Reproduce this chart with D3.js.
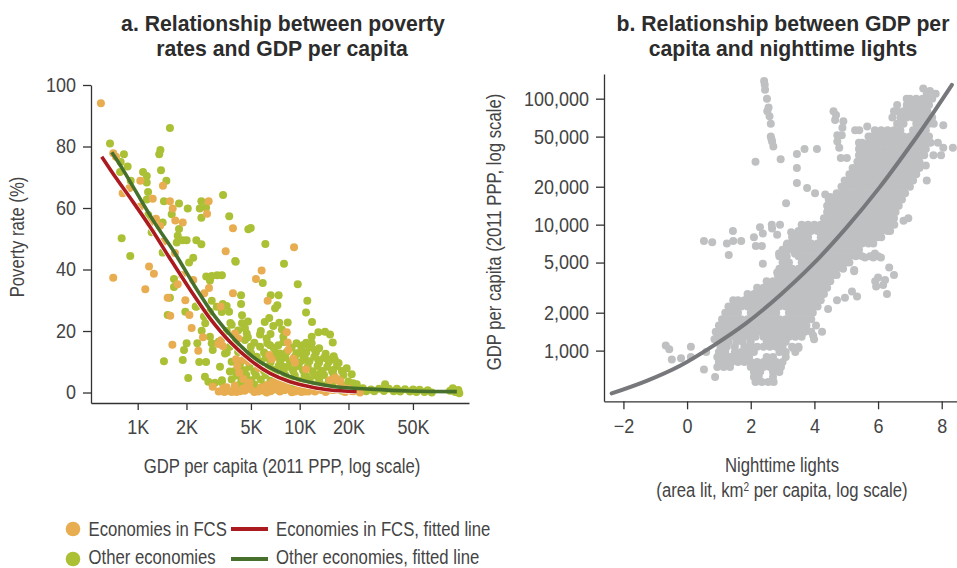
<!DOCTYPE html>
<html><head><meta charset="utf-8">
<script src="https://cdn.jsdelivr.net/npm/d3@7/dist/d3.min.js"></script>
<style>html,body{margin:0;padding:0;background:#fff}svg{display:block}
text{font-family:"Liberation Sans",sans-serif;fill:#444}
.title{font-weight:700;fill:#2c2c2c}</style>
</head><body><svg id="c" width="957" height="568"></svg>
<script>
// Panel a: [log10 GDP per capita, poverty rate %]
const fcsPoints=[[2.773,94.1],[2.849,77.8],[2.866,76.7],[2.907,64.8],[2.948,66.4],[3.016,68.9],[3.156,67.2],[3.093,63],[3.199,62.2],[3.216,59.8],[3.232,55.9],[3.278,55.3],[3.438,62.2],[3.428,58.1],[3.588,53.4],[3.543,45.9],[3.113,56.5],[3.072,55.1],[3.014,60.4],[3.138,54.2],[3.158,49],[3.23,45.4],[2.849,37.3],[3.07,41],[3.1,38.6],[3.047,33.6],[3.185,30.8],[3.294,30],[3.201,25],[3.319,25.2],[3.247,35.2],[3.343,36.6],[3.411,32.3],[3.272,38.2],[3.965,47.2],[3.765,39.7],[3.73,36.9],[3.588,32.3],[3.802,29.8],[3.44,34],[3.333,21],[3.214,15.5],[3.374,13.6],[3.403,18],[3.512,28],[3.498,15.8],[3.525,15.1],[3.514,17],[3.6,19.2],[3.621,17.6],[3.92,19.6],[3.926,16.3],[3.93,13.8],[3.96,11.1],[3.971,9.8],[4.039,7.6],[3.812,12.2],[3.827,10.8],[3.607,10.8],[3.652,10.6],[3.683,10],[3.615,8.6],[3.627,6.4],[3.652,4.4],[3.689,3.2],[3.745,8],[3.463,1.9],[3.528,1.4],[3.549,1.7],[3.535,.2],[3.58,.2],[3.631,.4],[3.673,1.9],[3.745,.5],[3.775,1],[3.796,2.4],[3.827,3],[3.858,3],[3.796,0],[3.848,1.4],[3.878,.3],[3.92,1.9],[3.951,.1],[3.981,.8],[4.033,.3],[4.105,.8],[4.187,4],[4.238,3.8],[4.259,1.9],[4.321,.5],[4.372,0],[4.207,.8],[3.745,.3],[3.837,3.5],[3.878,3],[3.868,.8],[3.909,.8],[3.971,.3],[4.012,.8],[4.053,.3],[4.094,.3],[4.136,.8],[4.177,.8],[4.207,4.4],[4.249,3.8],[4.28,.2],[4.33,.4],[3.6,2.2],[3.56,.6],[3.5,.3],[3.61,.2],[3.66,.6],[3.7,1],[3.72,.2],[3.82,.4],[3.9,1],[3.94,.9],[4.01,.2],[4.07,.9],[4.16,.2],[4.23,1],[4.3,1.2],[4.22,4.8],[3.65,1.2],[3.76,1.6],[3.83,2]];
const otherPoints=[[2.829,81],[2.915,77.5],[2.895,75],[2.938,73.5],[2.891,71.7],[2.957,68.9],[3.033,71.7],[3.056,70.4],[3.056,68.3],[3.064,65.2],[3.056,62.8],[3.199,86],[3.14,78.9],[3.133,77.5],[3.144,72.3],[3.177,68.9],[3.162,62.2],[3.255,61.5],[3.309,59.8],[3.393,62.2],[3.383,59.8],[3.422,60.2],[3.393,56.8],[3.527,64.2],[3.565,57.3],[3.21,58],[3.154,55.3],[3.255,53.2],[3.247,51],[3.241,48.8],[3.278,49.5],[3.302,49.5],[3.362,49.5],[3.393,48.2],[2.901,50.2],[2.954,44.4],[3.154,45.5],[3.343,43.8],[3.605,42.5],[3.086,52.1],[3.065,57.7],[3.698,53.5],[3.683,53.1],[3.788,48.3],[3.602,42.8],[3.903,41.9],[3.772,35.6],[3.988,35.2],[3.821,31.6],[3.87,31.6],[3.638,31.6],[3.638,28.8],[3.862,28.4],[3.848,27.4],[4.047,29.8],[4.039,26],[4.076,22.9],[3.423,37.7],[3.457,37.9],[3.491,38.1],[3.52,38.1],[3.446,36.4],[3.224,36.9],[3.224,34.3],[3.199,30.8],[3.185,25.2],[3.294,26.3],[3.358,28],[3.457,29.8],[3.488,27.9],[3.525,28.8],[3.549,28.1],[3.564,26.3],[3.519,26.2],[3.446,26.3],[3.409,24.7],[3.417,22.5],[3.572,22.6],[3.644,25.1],[3.644,22.5],[3.681,23.1],[3.662,20.9],[3.673,19.2],[3.662,17.1],[3.698,14.9],[3.755,18.9],[3.784,22.9],[3.812,24.2],[3.837,21.6],[3.874,22.7],[3.926,22.8],[3.899,18.1],[3.796,17.6],[3.817,15.4],[3.868,15.4],[3.878,12.7],[4.018,15.4],[4.002,12.7],[4.022,10.6],[4.074,18.1],[4.115,19.6],[4.156,19.8],[4.187,18.9],[4.204,16.3],[4.074,16],[4.094,13.8],[4.166,11.1],[4.218,10.6],[4.115,10.6],[4.29,7.9],[4.321,5.9],[4.207,7.3],[4.125,6.2],[4.043,5.1],[3.96,7.3],[3.899,8.4],[3.755,14.9],[3.735,11.6],[3.569,14.9],[3.539,12.7],[3.508,8.4],[3.569,6.8],[3.621,2.4],[3.302,16],[3.286,13.8],[3.278,10.6],[3.162,10.2],[3.368,16],[3.38,9.9],[3.422,9.9],[3.312,4.7],[3.415,5.1],[3.436,3.5],[3.477,3.2],[3.519,3.3],[3.463,13.8],[3.457,16],[3.446,18.1],[3.395,20.1],[3.317,42.3],[3.362,27.9],
[3.6,7],[3.66,7.2],[3.72,6.8],[3.78,7],[3.84,7.3],[3.9,6.8],[3.96,7],[4.02,7.2],[4.08,6.9],[4.14,7],[4.2,6.8],[4.26,7],
[3.58,10],[3.64,10.2],[3.7,9.8],[3.76,10],[3.82,9.8],[3.88,10.2],[3.94,10],[4,9.8],[4.06,10.2],[4.12,9.8],[4.18,10],[4.24,9.6],
[3.55,13],[3.62,13.2],[3.7,12.8],[3.78,13],[3.85,13],[3.92,13.2],[3.98,12.8],[4.04,13],[4.1,13],[4.16,12.6],
[3.52,4],[3.58,4.2],[3.64,3.8],[3.7,4],[3.76,4.2],[3.82,3.8],[3.88,4],[3.94,4.2],[4,3.8],[4.06,4],[4.12,4.2],[4.18,3.8],[4.24,4],[4.3,3.6],
[3.6,1],[3.66,.8],[3.72,1],[3.78,.6],[3.84,1],[3.9,.8],[3.96,1],[4.02,.6],[4.08,1],[4.14,.8],[4.2,1],[4.26,.6],[4.3,1.2],
[3.5,16.5],[3.6,16],[3.72,16.2],[3.8,16],[3.9,16.4],[3.98,16],[4.04,16.2],[3.55,20],[3.62,20.2],[3.68,12],[3.76,20],
[3.63,8.6],[3.69,8.4],[3.75,8.6],[3.81,8.4],[3.87,8.6],[3.93,8.4],[3.99,8.6],[4.05,8.4],[4.11,8.6],[4.17,8.4],[4.23,8.6],
[3.61,5.5],[3.67,5.7],[3.73,5.5],[3.79,5.7],[3.85,5.5],[3.91,5.7],[3.97,5.5],[4.03,5.7],[4.09,5.5],[4.15,5.7],[4.21,5.5],[4.27,5.7],[4.33,3],
[3.66,2.4],[3.72,2.6],[3.78,2.4],[3.84,2.6],[3.9,2.4],[3.96,2.6],[4.02,2.4],[4.08,2.6],[4.14,2.4],[4.2,2.6],[4.26,2.4],[4.31,2.2],
[3.73,11.5],[3.79,11.3],[3.86,11.6],[3.91,11.4],[3.97,11.6],[4.03,11.4],[4.09,11.6],[4.15,11.3],[4.21,11.8],[3.84,14.5],[3.95,14.6],[4.01,14.2],[4.06,14.6],[4.12,14.4],[3.58,22],[3.68,18],[3.82,19],[3.89,20.5],
[4.352,2.7],[4.33,1.2],[4.36,.6],[4.39,1.4],[4.41,.4],[4.44,1],[4.46,.4],[4.49,1.2],[4.527,2.7],[4.52,.5],[4.55,1.2],[4.58,.4],[4.6,1.2],[4.62,.3],[4.65,1.1],[4.68,.3],[4.7,1],[4.72,.2],[4.74,.9],[4.77,.2],[4.79,.7],[4.815,0],[4.928,.6],[4.945,1.4],[4.96,.2],[4.979,.8],[4.985,-.2]];
const fcsFit=[[2.778,76.7],[2.87,69.5],[2.963,62.6],[3.076,53.9],[3.199,43.6],[3.323,33.5],[3.446,24.1],[3.569,16.5],[3.693,10.6],[3.817,6.2],[3.94,3.5],[4.064,1.9],[4.187,.8],[4.352,.3]];
const otherFit=[[2.84,78.1],[2.91,72.4],[2.983,65.9],[3.107,55],[3.23,45.3],[3.354,34.4],[3.477,24.7],[3.6,17.1],[3.724,11.1],[3.848,7.3],[3.971,4.6],[4.094,3],[4.218,1.9],[4.434,1.1],[4.681,.5],[4.97,.3]];
const gdpKTicks=[1000,2000,5000,10000,20000,50000];
const gdpKLabels=["1K","2K","5K","10K","20K","50K"];
const povertyTicks=[0,20,40,60,80,100];
// Panel b: rows of log10 GDP per capita, with the lights values read along each row of the dense band
const bandLogGdp=[2.75,2.79,2.83,2.87,2.91,2.95,2.99,3.03,3.07,3.11,3.15,3.2,3.25,3.3,3.35,3.4,3.45,3.5,3.55,3.6,3.65,3.7,3.75,3.8,3.85,3.9,3.95,4,4.05,4.1,4.15,4.2,4.25,4.3,4.35,4.4,4.45,4.5,4.55,4.6,4.65,4.7,4.75,4.8,4.85,4.9,4.95,5];
const bandLights=[
[2.15,2.35,2.55,2.72],
[2.1,2.25,2.7,.88],
[2.1,2.3,2.7,2.9],
[.95,1.15,1.35,2,2.2,2.4,2.6,2.8,2.95],
[1,1.2,1.4,1.6,1.8,2,2.2,2.4,2.6,2.8,3],
[.95,1.15,1.35,1.55,1.75,1.95,2.5,2.7,3.1],
[1,1.2,1.5,1.7,1.9,2.1,2.9,3.1,3.4],
[1.05,1.25,1.5,1.8,2,2.2,2.4,2.6,2.8,3,3.3,3.5],
[1.1,1.3,1.55,1.75,2,2.5,2.7,2.9,3.1],
[.95,1.15,1.35,1.55,1.75,1.95,2.15,2.4,2.6,2.8,3,3.2,3.4,3.6],
[.9,1.1,1.3,1.5,1.7,1.9,2.1,2.3,2.5,2.7,2.9,3.1,3.3,3.5,3.7,3.9],
[1,1.2,1.4,1.6,1.8,2,2.2,2.4,2.6,2.8,3,3.2,3.4,3.6,3.75],
[1.1,1.3,1.5,1.7,1.9,2.1,2.3,2.5,2.7,2.9,3.1,3.3,3.5,3.7,3.9],
[1.2,1.4,1.6,2,2.2,2.4,2.6,2.8,3.2,3.4,3.6,3.8,3.95],
[1.3,1.5,1.7,1.9,2.1,2.3,2.5,2.7,2.9,3.1,3.3,3.5,3.7,3.9,4.1],
[1.45,1.6,1.8,2,2.2,2.4,2.6,2.8,3,3.2,3.4,3.6,3.8,4,4.2],
[1.9,2.1,2.3,2.5,2.7,2.9,3.1,3.3,3.5,3.7,3.9,4.1,4.3],
[2.2,2.4,2.6,2.8,3,3.2,3.4,3.6,3.8,4,4.2,4.4],
[2.5,2.7,2.9,3.1,3.3,3.5,3.7,3.9,4.1,4.3,4.5],
[2.85,3,3.2,3.4,3.6,3.8,4,4.2,4.4,4.6,4.7],
[2.9,3.1,3.3,3.5,3.7,3.9,4.1,4.3,4.5,4.7,4.9],
[3,3.2,3.6,3.8,4,4.2,4.4,4.6,4.8,5,5.1],
[2.9,3.1,3.5,3.7,3.9,4.1,4.3,4.5,4.7,4.9,5.1,5.3,5.5,5.75,6],
[3,3.2,3.4,3.6,3.8,4,4.2,4.4,4.6,4.8,5,5.2,5.4],
[3.15,3.3,3.5,3.7,3.9,4.1,4.3,4.5,4.7,4.9,5.1,5.3,5.5,5.7,5.85],
[3.3,3.4,3.6,3.8,4.2,4.4,4.6,4.8,5,5.2,5.4,5.6,5.8,6,6.1],
[3.5,3.7,3.9,4.1,4.3,4.5,4.7,4.9,5.1,5.3,5.5,5.7,5.9,6.1,6.3],
[3.6,3.8,4,4.2,4.4,4.6,4.8,5,5.2,5.4,5.6,5.8,6,6.2,6.4],
[4.3,4.5,4.7,4.9,5.1,5.3,5.5,5.7,5.9,6.1,6.3,6.5],
[4.4,4.6,4.8,5,5.2,5.4,5.6,5.8,6,6.2,6.4,6.55],
[4.4,4.5,4.7,4.9,5.1,5.3,5.5,5.7,5.9,6.1,6.3,6.5,6.65],
[4.45,4.6,4.8,5,5.2,5.4,5.6,5.8,6,6.2,6.4,6.6,6.75],
[4.7,4.9,5.1,5.3,5.5,5.7,5.9,6.1,6.3,6.5,6.7,6.85],
[4.85,5,5.2,5.4,5.6,5.8,6,6.2,6.4,6.6,6.8,7],
[4.95,5.1,5.3,5.5,5.7,5.9,6.1,6.3,6.5,6.7,6.9,7.1],
[5.1,5.2,5.4,5.6,5.8,6,6.2,6.4,6.6,6.8,7,7.2],
[5.2,5.3,5.5,5.7,5.9,6.1,6.3,6.5,6.7,6.9,7.1,7.3],
[5.35,5.4,5.6,5.8,6,6.2,6.4,6.6,6.8,7,7.2,7.3],
[5.4,5.5,5.7,5.9,6.1,6.3,6.5,6.7,6.9,7.1,7.3,7.45],
[5.4,5.6,5.8,6,6.2,6.4,6.6,6.8,7,7.2,7.4,7.5],
[5.4,5.5,5.7,5.9,6.1,6.3,6.5,6.7,6.9,7.1,7.3,7.5,7.65],
[5.7,5.8,6,6.2,6.4,6.6,6.8,7,7.2,7.4,7.6],
[5.9,6.1,6.3,6.5,6.7,7.1,7.3,7.5],
[6.6,6.8,7.2,7.4,7.6,7.75],
[6.45,6.7,6.9,7.1,7.3,7.5,7.7],
[6.5,6.6,6.8,7,7.2,7.4,7.55],
[6.6,6.9,7.1,7.3,7.5,7.6],
[6.9,7,7.2,7.4,7.6,7.7]];
const sparseLights=[-.67,-.56,-.48,-.19,.12,.12,.53,.86,.6,4.05,4.24,3.96,3.99,3.33,3.5,5.91,6,6.22,6.16,5.94,6.28,6.35,6.5,5.34,5.18,4.96,4.71,4.43,5.25,1.44,.53,.79,1.25,1.45,1.7,1.31,2.1,2.38,2.29,2.16,2.35,2.66,2.92,2.67,2.83,3.27,3.45,3.6,3.11,2.38,2.89,3.13,3.33,3.13,3.39,2.83,3.13,4.34,4.49,4.02,3.77,3.45,3.45,3.45,3.69,4.08,2.94,2.15,2.42,2.45,2.51,2.52,2.59,2.63,2.63,2.67,2.71,2.44,2.56,2.65,4.6,4.68,4.65,4.91,4.88,4.86,4.72,4.72,4.78,4.83,5.02,5.28,5.41,5.66,8.35,8.05,8.05,7.88,7.74,7.98,7.5,7.53,7.81,7.53,7.42,7.63,6.95,6.8,6.51,6.38,6.09,5.85,5.59,5.38,5.9,5.25];
const sparseLogGdp=[3.04,3.01,2.93,2.94,3.03,2.95,2.85,3.09,2.99,3.2,3.15,3.12,3.09,3.02,3.02,3.55,3.58,3.56,3.52,3.51,3.45,3.66,3.6,3.43,3.47,3.42,3.4,3.33,3.63,3.95,3.87,3.86,3.85,3.87,3.87,3.76,3.9,3.93,3.98,3.83,3.83,4,4,3.97,3.92,3.94,3.9,3.88,4.17,3.69,3.77,3.84,3.84,3.75,3.77,3.62,3.64,4.24,4.22,4.25,4.29,4.33,4.45,4.56,4.6,4.6,4.52,4.5,5.14,5.07,5,4.9,4.86,4.8,4.7,4.66,4.62,5.11,4.93,4.68,4.9,4.87,4.83,4.82,4.77,4.71,4.71,4.66,4.61,4.53,4.53,4.75,4.75,4.78,4.61,4.79,4.61,4.65,4.55,4.55,4.47,4.35,5.04,5.04,5.08,5.06,4.05,4.03,4,3.95,3.74,3.74,3.74,3.79,3.77,3.64];
const curveLights=[-2.37,-1.27,-.22,.83,1.87,2.92,3.97,5.02,6.06,7.11,7.74,8.32];
const curveLogGdp=[2.66,2.76,2.88,3.04,3.22,3.44,3.69,3.98,4.3,4.66,4.89,5.11];
const gdpTicks=[1000,2000,5000,10000,20000,50000,100000];
const lightTicks=[-2,0,2,4,6,8];

const colors={fcs:"#e8ad50",other:"#abc035",fcsLine:"#ab1a1f",otherLine:"#46702c",gray:"#bfc0c2",curve:"#77787b",axis:"#333"};
const svg=d3.select("#c");
const xA=d3.scaleLog().domain([515,110900]).range([91,469]);
const yA=d3.scaleLinear().domain([-3.41,100]).range([403,85]);
const xB=d3.scaleLinear().domain([-2.61,8.48]).range([604,957]);
const yB=d3.scaleLog().domain([396,157000]).range([401.3,74]);
const lineCurve=d3.curveCatmullRom;
const NARROW=0.835, TICK_NARROW=0.9;
function narrow(sel,ratio=NARROW){
  sel.each(function(){
    const len=this.getComputedTextLength();
    this.setAttribute("textLength",(len*ratio).toFixed(1));
    this.setAttribute("lengthAdjust","spacingAndGlyphs");
  });
  return sel;
}
function styleAxis(g,size){
  g.attr("font-family",null);
  g.selectAll("path,line").attr("stroke",colors.axis).attr("stroke-width",1.3);
  g.selectAll("text").attr("font-size",size).attr("fill","#444");
  narrow(g.selectAll("text"),TICK_NARROW);
}
const axAx=d3.axisBottom(xA).tickValues(gdpKTicks).tickFormat((d,i)=>gdpKLabels[i]).tickSize(7).tickSizeOuter(0).tickPadding(10);
svg.append("g").attr("transform","translate(0,403)").call(axAx).call(g=>styleAxis(g,20));
const ayAx=d3.axisLeft(yA).tickValues(povertyTicks).tickSize(8).tickSizeOuter(0).tickPadding(7);
svg.append("g").attr("transform","translate(91,0)").call(ayAx).call(g=>styleAxis(g,20));
const bxAx=d3.axisBottom(xB).tickValues(lightTicks).tickFormat(d3.format("d")).tickSize(8).tickSizeOuter(0).tickPadding(10);
svg.append("g").attr("transform","translate(0,401.3)").call(bxAx).call(g=>styleAxis(g,20));
const byAx=d3.axisLeft(yB).tickValues(gdpTicks).tickFormat(d3.format(",")).tickSize(8).tickSizeOuter(0).tickPadding(7);
svg.append("g").attr("transform","translate(604,0)").call(byAx).call(g=>styleAxis(g,20));

// panel a marks
const R=4;
svg.append("g").selectAll("circle").data(otherPoints).join("circle")
  .attr("cx",d=>xA(10**d[0])).attr("cy",d=>yA(d[1])).attr("r",R).attr("fill",colors.other);
svg.append("g").selectAll("circle").data(fcsPoints).join("circle")
  .attr("cx",d=>xA(10**d[0])).attr("cy",d=>yA(d[1])).attr("r",R).attr("fill",colors.fcs);
const lineA=d3.line().x(d=>xA(10**d[0])).y(d=>yA(d[1])).curve(lineCurve);
svg.append("path").attr("d",lineA(fcsFit)).attr("fill","none").attr("stroke","#fff").attr("stroke-width",5);
svg.append("path").attr("d",lineA(fcsFit)).attr("fill","none").attr("stroke",colors.fcsLine).attr("stroke-width",3.6);
svg.append("path").attr("d",lineA(otherFit)).attr("fill","none").attr("stroke",colors.otherLine).attr("stroke-width",3.6);

// panel b marks
const bPts=[];
bandLights.forEach((row,i)=>row.forEach(l=>bPts.push([l,bandLogGdp[i]])));
sparseLights.forEach((l,i)=>bPts.push([l,sparseLogGdp[i]]));
svg.append("g").selectAll("circle").data(bPts).join("circle")
  .attr("cx",d=>xB(d[0])).attr("cy",d=>yB(10**d[1])).attr("r",R).attr("fill",colors.gray);
const lineB=d3.line().x(d=>xB(d)).y((d,i)=>yB(10**curveLogGdp[i])).curve(lineCurve);
svg.append("path").attr("d",lineB(curveLights)).attr("fill","none").attr("stroke",colors.curve).attr("stroke-width",4).attr("stroke-linecap","round");

// titles and labels
function label(x,y,t,size,cls,rot){
  const s=svg.append("text").attr("x",x).attr("y",y).attr("text-anchor","middle").attr("font-size",size).text(t);
  if(cls)s.attr("class",cls);
  if(rot)s.attr("transform",`rotate(-90 ${x} ${y})`);
  return s;
}
label(283,31,"a. Relationship between poverty",21.2,"title");
label(282,56,"rates and GDP per capita",21.2,"title");
label(783,31,"b. Relationship between GDP per",21.2,"title");
label(783,56,"capita and nighttime lights",21.2,"title");
narrow(label(282,473,"GDP per capita (2011 PPP, log scale)",20));
narrow(label(24,237,"Poverty rate (%)",20,null,true));
narrow(label(501,232,"GDP per capita (2011 PPP, log scale)",20,null,true));
narrow(label(782,472,"Nighttime lights",20));
const g2=svg.append("g").attr("transform",`translate(782,497) scale(${NARROW},1)`);
const t2=g2.append("text").attr("text-anchor","middle").attr("font-size",20).text("(area lit, km");
t2.append("tspan").attr("dy",-6).attr("font-size",12).text("2");
t2.append("tspan").attr("dy",6).text(" per capita, log scale)");

// legend
const legendLabels=["Economies in FCS","Other economies"];
const legendLineLabels=["Economies in FCS, fitted line","Other economies, fitted line"];
[[colors.fcs,colors.fcsLine],[colors.other,colors.otherLine]].forEach((c,i)=>{
  const y=529+i*30, base=i?563.5:536;
  svg.append("circle").attr("cx",73).attr("cy",y).attr("r",7.3).attr("fill",c[0]);
  narrow(svg.append("text").attr("x",88.5).attr("y",base).attr("font-size",20).text(legendLabels[i]));
  svg.append("line").attr("x1",231).attr("x2",268).attr("y1",y).attr("y2",y).attr("stroke",c[1]).attr("stroke-width",4);
  narrow(svg.append("text").attr("x",276).attr("y",base).attr("font-size",20).text(legendLineLabels[i]));
});
</script></body></html>
